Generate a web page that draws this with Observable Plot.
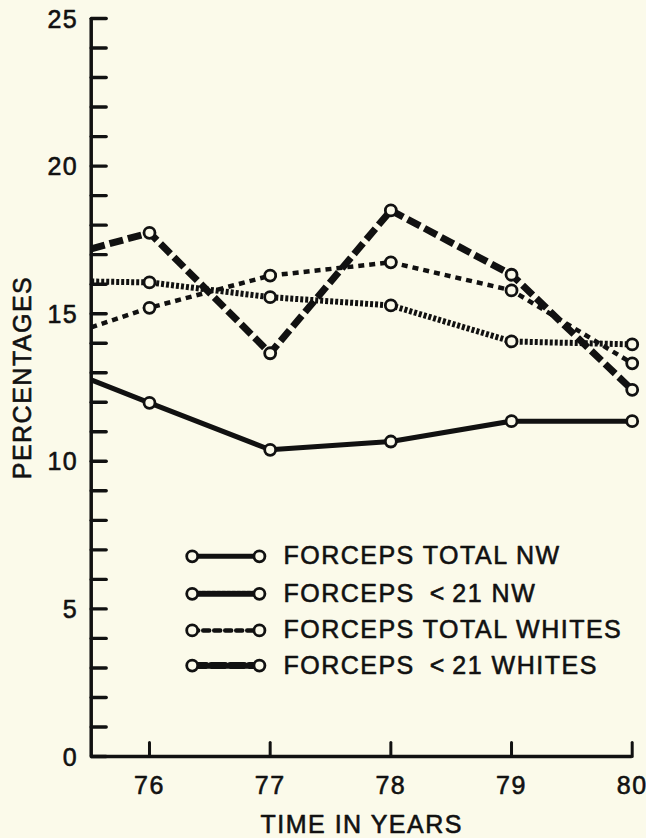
<!DOCTYPE html>
<html><head><meta charset="utf-8">
<script src="https://cdn.jsdelivr.net/npm/d3@7"></script>
<script src="https://cdn.jsdelivr.net/npm/@observablehq/plot@0.6"></script>
<style>
html,body{margin:0;padding:0;background:#fbfaea;}
#chart svg{display:block;}
</style></head><body><div id="chart"></div>
<script>
// ---- data ----
const years = [75.517, 76, 77, 78, 79, 80];           // first entry = left edge of axis (line start, no marker)
const forcepsTotalNW       = [12.76, 11.98, 10.39, 10.67, 11.36, 11.36];
const forcepsUnder21NW     = [16.09, 16.06, 15.56, 15.28, 14.06, 13.96];
const forcepsTotalWhites   = [14.54, 15.20, 16.29, 16.74, 15.79, 13.32];
const forcepsUnder21Whites = [17.20, 17.74, 13.66, 18.50, 16.32, 12.42];
const seriesNames = ["FORCEPS TOTAL NW", "FORCEPS \u2009<\u200921 NW", "FORCEPS TOTAL WHITES", "FORCEPS \u2009<\u200921 WHITES"];
const xTicks = [76, 77, 78, 79, 80];
const yTicks = [0, 5, 10, 15, 20, 25];
const yMinorTicks = d3.range(0, 26);
const xLabel = "TIME IN YEARS";
const yLabel = "PERCENTAGES";
// legend anchor (in data units)
const legendX = [76.354, 76.911];
const legendTextX = 77.11;
const legendY = [6.78, 5.51, 4.27, 3.08];

// ---- build ----
const bg = "#fbfaea";
const ink = "#111";
const seriesValues = [forcepsTotalNW, forcepsUnder21NW, forcepsTotalWhites, forcepsUnder21Whites];
const styles = [
  {strokeWidth: 5, strokeDasharray: null},
  {strokeWidth: 6, strokeDasharray: "3,2"},
  {strokeWidth: 4.5, strokeDasharray: "6,5"},
  {strokeWidth: 7, strokeDasharray: "14,5"}
];
const series = seriesValues.map((vals, s) => years.map((x, i) => ({x, y: vals[i], s, first: i === 0})));
const x0 = years[0], x1 = xTicks[xTicks.length - 1];
const tickShape = {draw(context, l) { context.moveTo(0, 0); context.lineTo(0, -l); }};
const font = "'Liberation Sans', Arial, Helvetica, sans-serif";
const txt = {fill: ink, stroke: ink, strokeWidth: 0.6};

const marks = [];
// axes lines
marks.push(Plot.ruleX([x0], {y1: 0, y2: 25, stroke: ink, strokeWidth: 3.5}));
marks.push(Plot.ruleY([0], {x1: x0, x2: x1, stroke: ink, strokeWidth: 3.5}));
// y ticks (inward)
marks.push(Plot.vector(yMinorTicks, {y: d => d, frameAnchor: "left", length: 15, rotate: 90, anchor: "start", shape: tickShape, stroke: ink, strokeWidth: 3.4}));
// x ticks (inward, up)
marks.push(Plot.vector(xTicks, {x: d => d, frameAnchor: "bottom", length: 14, rotate: 0, anchor: "start", shape: tickShape, stroke: ink, strokeWidth: 3}));
// tick labels
marks.push(Plot.text(yTicks, {y: d => d, frameAnchor: "left", dx: -13, dy: 1, textAnchor: "end", lineAnchor: "middle", text: d => String(d), ...txt}));
marks.push(Plot.text(xTicks, {x: d => d, frameAnchor: "bottom", dy: 29, textAnchor: "middle", lineAnchor: "middle", text: d => String(d), ...txt}));
// axis labels
marks.push(Plot.text([xLabel], {frameAnchor: "bottom", dy: 68, textAnchor: "middle", lineAnchor: "middle", text: d => d, ...txt}));
marks.push(Plot.text([yLabel], {frameAnchor: "left", dx: -68, dy: -10, rotate: -90, textAnchor: "middle", lineAnchor: "middle", text: d => d, ...txt}));
// series
series.forEach((pts, s) => {
  marks.push(Plot.line(pts, {x: "x", y: "y", stroke: ink, strokeWidth: styles[s].strokeWidth, strokeDasharray: styles[s].strokeDasharray, strokeLinejoin: "miter", strokeLinecap: "butt"}));
});
series.forEach((pts) => {
  marks.push(Plot.dot(pts.filter(d => !d.first), {x: "x", y: "y", r: 5.5, stroke: ink, strokeWidth: 2.8, fill: bg}));
});
// legend
seriesNames.forEach((name, s) => {
  const pts = legendX.map(x => ({x, y: legendY[s]}));
  marks.push(Plot.line(pts, {x: "x", y: "y", stroke: ink, strokeWidth: styles[s].strokeWidth, strokeDasharray: styles[s].strokeDasharray}));
  marks.push(Plot.dot(pts, {x: "x", y: "y", r: 5.5, stroke: ink, strokeWidth: 2.8, fill: bg}));
  marks.push(Plot.text([name], {x: legendTextX, y: legendY[s], text: d => d, textAnchor: "start", lineAnchor: "middle", ...txt}));
});

const chart = Plot.plot({
  width: 646,
  height: 838,
  marginLeft: 90.7,
  marginRight: 14.3,
  marginTop: 18,
  marginBottom: 82,
  x: {domain: [x0, x1], axis: null},
  y: {domain: [0, 25], axis: null},
  style: {background: bg, fontFamily: font, fontSize: "25px", letterSpacing: "1.5px", color: ink, overflow: "visible"},
  marks
});
document.getElementById("chart").appendChild(chart);
</script>
</body></html>
